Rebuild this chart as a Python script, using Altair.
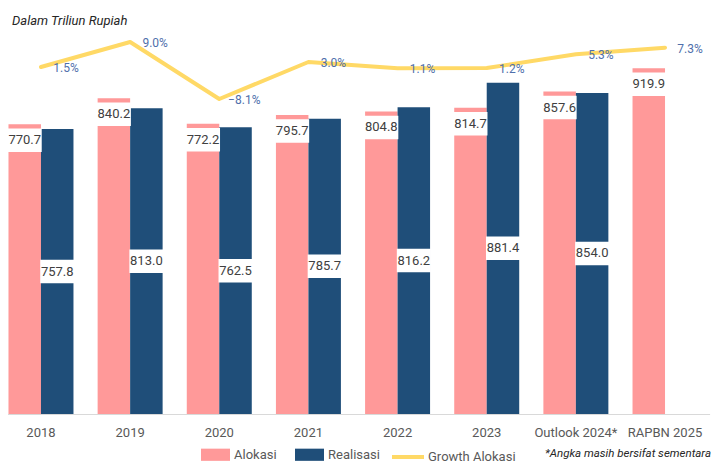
import altair as alt
import pandas as pd

categories = ["2018", "2019", "2020", "2021", "2022", "2023", "Outlook 2024*", "RAPBN 2025"]
alokasi = [770.7, 840.2, 772.2, 795.7, 804.8, 814.7, 857.6, 919.9]
realisasi = [757.8, 813.0, 762.5, 785.7, 816.2, 881.4, 854.0, None]
growth = [1.5, 9.0, -8.1, 3.0, 1.1, 1.2, 5.3, 7.3]
series_names = ["Alokasi", "Realisasi"]
line_name = "Growth Alokasi"
title_text = "Dalam Triliun Rupiah"
note_text = "*Angka masih bersifat sementara"

PINK = "#FF9999"
BLUE = "#1F4E79"
YELLOW = "#FFD966"
FONT = "Roboto"

rows = []
for c, a, r in zip(categories, alokasi, realisasi):
    rows.append({"cat": c, "series": "Alokasi", "value": a})
    if r is not None:
        rows.append({"cat": c, "series": "Realisasi", "value": r})
bar_df = pd.DataFrame(rows)
line_df = pd.DataFrame({"cat": categories, "growth": growth, "s": line_name})

W, H = 702, 406
YMAX = 1080
PX = H / YMAX
YDOM = [0, YMAX]
GDOM = [-102.6, 19.2]

x_enc = alt.X(
    "cat:N", sort=categories,
    scale=alt.Scale(range=[-11.6, 701.6], paddingInner=0.271, paddingOuter=0.1355),
    axis=alt.Axis(title=None, labelAngle=0, ticks=False, domainColor="#d9d9d9",
                  domainWidth=1, labelPadding=12, labelColor="#595959", labelFont=FONT,
                  labelFontSize=13, labelOverlap=False),
)
xo_enc = alt.XOffset("series:N", scale=alt.Scale(domain=series_names, paddingInner=0, paddingOuter=0))


def yq(field):
    return alt.Y(field, type="quantitative", scale=alt.Scale(domain=YDOM, nice=False, zero=True), axis=None)


bars = alt.Chart(bar_df).mark_bar().encode(
    x=x_enc, xOffset=xo_enc, y=yq("value"),
    fill=alt.Fill("series:N", scale=alt.Scale(domain=series_names, range=[PINK, BLUE]),
                  legend=alt.Legend(title=None, orient="none", legendX=193, legendY=432,
                                    direction="horizontal", symbolType="M-1,-0.42H1V0.42H-1Z",
                                    symbolSize=841, symbolStrokeWidth=0, labelFont=FONT,
                                    labelFontSize=13, labelColor="#595959", labelOffset=4,
                                    columnPadding=18, padding=0)),
)

alok = alt.Chart(bar_df).transform_filter(alt.datum.series == "Alokasi").transform_calculate(
    top=f"datum.value - {5 / PX}", bot=f"datum.value - {27 / PX}", mid=f"datum.value - {16 / PX}"
)
real = alt.Chart(bar_df).transform_filter(alt.datum.series == "Realisasi").transform_calculate(
    top=f"datum.value / 2 + {11 / PX}", bot=f"datum.value / 2 - {11 / PX}", mid="datum.value / 2"
)

layers = [bars]
for src in (alok, real):
    layers.append(src.mark_bar(color="white", stroke="white", strokeWidth=1.5).encode(
        x=x_enc, xOffset=xo_enc, y=yq("top"), y2="bot:Q"))
    layers.append(src.mark_text(font=FONT, fontSize=13, color="#404040", baseline="middle").encode(
        x=x_enc, xOffset=xo_enc, y=yq("mid"), text=alt.Text("value:Q", format=".1f")))

gy = alt.Y("growth:Q", scale=alt.Scale(domain=GDOM, nice=False, zero=False), axis=None)
line = alt.Chart(line_df).mark_line(strokeWidth=4, strokeCap="round", strokeJoin="round").encode(
    x=x_enc, y=gy,
    stroke=alt.Stroke("s:N", scale=alt.Scale(domain=[line_name], range=[YELLOW]),
                      legend=alt.Legend(title=None, orient="none", legendX=382, legendY=431,
                                        symbolType="stroke", symbolSize=1024, symbolStrokeWidth=4,
                                        labelFont=FONT, labelFontSize=13, labelColor="#595959",
                                        labelOffset=2, padding=0)),
)
line_lbl = alt.Chart(line_df).transform_calculate(
    lbl="format(datum.growth, '.1f') + '%'"
).mark_text(font=FONT, fontSize=12, color="#4F6FAB", dx=25, dy=1, baseline="middle").encode(
    x=x_enc, y=gy, text="lbl:N")
layers += [line, line_lbl]

title = alt.Chart(pd.DataFrame({"t": [title_text]})).mark_text(
    font=FONT, fontSize=13, fontStyle="italic", color="#262626", align="left", baseline="middle"
).encode(x=alt.value(4), y=alt.value(13), text="t:N")
note = alt.Chart(pd.DataFrame({"t": [note_text]})).mark_text(
    font=FONT, fontSize=11.5, fontStyle="italic", color="#262626", align="right", baseline="middle"
).encode(x=alt.value(703), y=alt.value(446), text="t:N")
layers += [title, note]

chart = alt.layer(*layers).resolve_scale(y="independent").properties(
    width=W, height=H,
    autosize=alt.AutoSizeParams(type="none"),
    padding={"left": 0, "top": 0, "right": 2, "bottom": 49},
).configure_view(stroke=None)

chart.save("out.html", embed_options={"renderer": "svg", "actions": False})
